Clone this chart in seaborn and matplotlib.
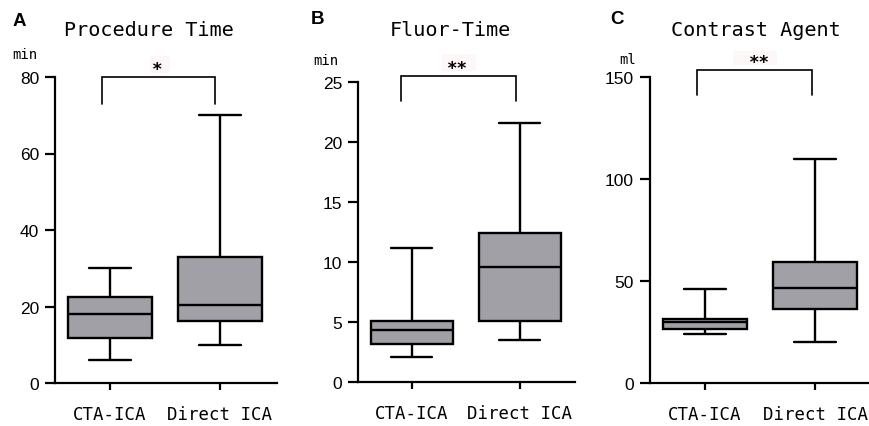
import matplotlib
matplotlib.use("Agg")
import matplotlib.pyplot as plt
from matplotlib.patches import Rectangle
import seaborn as sns
import pandas as pd

sns.set_theme(style="ticks")
plt.rcParams['font.family'] = ['DejaVu Sans']
plt.rcParams['text.color'] = 'black'
plt.rcParams['xtick.color'] = 'black'
plt.rcParams['ytick.color'] = 'black'
plt.rcParams['axes.labelcolor'] = 'black'

groups = ["CTA-ICA", "Direct ICA"]
# five-number summaries: min, Q1, median, Q3, max
proc_cta = [6.0, 11.7, 18.0, 22.5, 30.0]
proc_direct = [10.0, 16.2, 20.4, 33.0, 70.0]
fluor_cta = [2.1, 3.2, 4.3, 5.1, 11.2]
fluor_direct = [3.5, 5.1, 9.6, 12.4, 21.6]
contrast_cta = [24.0, 26.5, 30.0, 31.2, 46.0]
contrast_direct = [20.0, 36.5, 46.5, 59.5, 110.0]

titles = ["Procedure Time", "Fluor-Time", "Contrast Agent"]
letters = ["A", "B", "C"]
units = ["min", "min", "ml"]
signif = ["*", "**", "**"]
yticks = [[0, 20, 40, 60, 80], [0, 5, 10, 15, 20, 25], [0, 50, 100, 150]]

panels = [(proc_cta, proc_direct), (fluor_cta, fluor_direct), (contrast_cta, contrast_direct)]

W, H = 869, 427
fig = plt.figure(figsize=(W / 100, H / 100), dpi=100)

# axes pixel boxes: left, right, top, bottom
boxes = [(55, 277, 78, 384), (358, 575, 83, 383), (650, 868, 78, 384)]
ylims = [(0, 80), (0, 25), (0, 150)]
xlims = [(-0.5, 1.52), (-0.5, 1.51), (-0.5, 1.48)]
# bracket: x0, x1, ytop, ybottom (data units)
brackets = [(-0.07, 0.96, 80, 73),
            (-0.10, 0.96, 25.5, 23.4),
            (-0.07, 0.97, 153.6, 141)]
# star pixel positions (center x, top y) and pink highlight rect (x0, x1, y0, y1) in pixels
star_pos = [(157, 61), (457, 60), (759, 54)]
pink = [(150, 170, 57, 74), (442, 476, 55, 72), (733, 777, 52, 66)]
title_pos = [(149, 30), (450, 31), (756, 30)]
letter_pos = [(13, 21), (311, 19), (610, 19)]
unit_pos = [(12, 55), (313, 61), (619, 60)]

fill = "#a1a0a7"
mono = "DejaVu Sans Mono"

for i, (a, b) in enumerate(panels):
    px0, px1, py0, py1 = pink[i]
    fig.patches.append(Rectangle((px0 / W, 1 - py1 / H), (px1 - px0) / W, (py1 - py0) / H,
                                 transform=fig.transFigure, facecolor="#fdf7f7",
                                 edgecolor="none", zorder=0))
    l, r, t, bt = boxes[i]
    ax = fig.add_axes([l / W, (H - bt) / H, (r - l) / W, (bt - t) / H])
    ax.patch.set_alpha(0)
    df = pd.DataFrame({
        "group": [groups[0]] * len(a) + [groups[1]] * len(b),
        "value": list(a) + list(b),
    })
    sns.boxplot(data=df, x="group", y="value", ax=ax, whis=(0, 100),
                width=0.76, color=fill, linecolor="black", linewidth=1.7,
                saturation=1, showfliers=False)
    ax.set_ylim(*ylims[i])
    ax.set_xlim(*xlims[i])
    ax.set_yticks(yticks[i])
    ax.set_xlabel("")
    ax.set_ylabel("")
    sns.despine(ax=ax)
    for s in ["left", "bottom"]:
        ax.spines[s].set_linewidth(1.6)
        ax.spines[s].set_color("black")
    ax.tick_params(axis="y", length=7, width=1.6, pad=4.5, colors="black")
    ax.tick_params(axis="x", length=5, width=1.6, pad=11, colors="black")
    for lab in ax.get_yticklabels():
        lab.set_fontfamily("Liberation Sans")
        lab.set_fontsize(12.5)
    for lab in ax.get_xticklabels():
        lab.set_fontfamily(mono)
        lab.set_fontsize(12.5)
    x0, x1, yt, yb = brackets[i]
    ax.plot([x0, x0, x1, x1], [yb, yt, yt, yb], color="black", lw=1.2,
            clip_on=False, solid_joinstyle="miter")
    sx, sy = star_pos[i]
    fig.text(sx / W, 1 - sy / H, signif[i], ha="center", va="top", fontsize=12.5,
             fontweight="bold", fontfamily=mono)
    tx, ty = title_pos[i]
    fig.text(tx / W, 1 - ty / H, titles[i], ha="center", va="center",
             fontsize=14.5, fontfamily=mono)
    lx, ly = letter_pos[i]
    fig.text(lx / W, 1 - ly / H, letters[i], ha="left", va="center",
             fontsize=13.5, fontweight="bold", fontfamily="Liberation Sans")
    ux, uy = unit_pos[i]
    fig.text(ux / W, 1 - uy / H, units[i], ha="left", va="center",
             fontsize=10, fontfamily=mono)

fig.savefig("out.png", dpi=100, facecolor="white")
